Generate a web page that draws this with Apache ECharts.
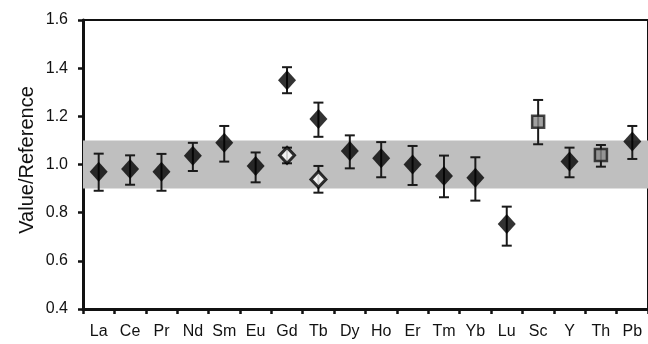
<!DOCTYPE html>
<html>
<head>
<meta charset="utf-8">
<script src="https://cdn.jsdelivr.net/npm/echarts@6/dist/echarts.min.js"></script>
<style>
  html, body { margin: 0; padding: 0; background: #fff; }
  #chart { width: 648px; height: 344px; }
</style>
</head>
<body>
<div id="chart"></div>
<script>
// 元素名称
const categories = ['La', 'Ce', 'Pr', 'Nd', 'Sm', 'Eu', 'Gd', 'Tb', 'Dy', 'Ho', 'Er', 'Tm', 'Yb', 'Lu', 'Sc', 'Y', 'Th', 'Pb'];

// 黑色菱形 + 误差
const blackValues = [0.97, 0.981, 0.97, 1.036, 1.09, 0.994, 1.35, 1.189, 1.056, 1.026, 1.0, 0.952, 0.945, 0.753, null, 1.012, null, 1.095];
const blackLow = [0.891, 0.916, 0.891, 0.973, 1.012, 0.926, 1.296, 1.115, 0.984, 0.947, 0.915, 0.864, 0.85, 0.663, null, 0.947, null, 1.023];
const blackHigh = [1.045, 1.038, 1.044, 1.09, 1.16, 1.05, 1.404, 1.257, 1.121, 1.093, 1.077, 1.037, 1.03, 0.825, null, 1.07, null, 1.16];

// 白色菱形 (Gd, Tb)
const whiteCats = ['Gd', 'Tb'];
const whiteValues = [1.038, 0.938];
const whiteLow = [1.005, 0.883];
const whiteHigh = [1.07, 0.994];

// 灰色方块 (Sc, Th)
const squareCats = ['Sc', 'Th'];
const squareValues = [1.178, 1.039];
const squareLow = [1.084, 0.991];
const squareHigh = [1.268, 1.081];

const yTicks = { min: 0.4, max: 1.6, interval: 0.2 };
const band = [0.9, 1.1];

const errData = [];
blackValues.forEach((v, i) => {
  if (v != null) errData.push([categories[i], blackLow[i], blackHigh[i]]);
});
whiteCats.forEach((c, i) => errData.push([c, whiteLow[i], whiteHigh[i]]));
squareCats.forEach((c, i) => errData.push([c, squareLow[i], squareHigh[i]]));

function renderErr(params, api) {
  const lo = api.coord([api.value(0), api.value(1)]);
  const hi = api.coord([api.value(0), api.value(2)]);
  const w = 5;
  const style = { stroke: '#1a1a1a', lineWidth: 2 };
  return {
    type: 'group',
    children: [
      { type: 'line', shape: { x1: hi[0], y1: hi[1], x2: lo[0], y2: lo[1] }, style },
      { type: 'line', shape: { x1: hi[0] - w, y1: hi[1], x2: hi[0] + w, y2: hi[1] }, style },
      { type: 'line', shape: { x1: lo[0] - w, y1: lo[1], x2: lo[0] + w, y2: lo[1] }, style }
    ]
  };
}

const myChart = echarts.init(document.getElementById('chart'));
const font = 'Liberation Sans, Arial, sans-serif';

const option = {
  animation: false,
  grid: {
    left: 83, right: -2, top: 20, bottom: 35,
    show: true, borderColor: '#111', borderWidth: 2, backgroundColor: 'transparent'
  },
  graphic: [{
    type: 'text',
    x: 27, y: 160,
    rotation: Math.PI / 2,
    style: {
      text: 'Value/Reference',
      font: '20px ' + font,
      fill: '#111',
      align: 'center',
      verticalAlign: 'middle'
    }
  }],
  xAxis: {
    type: 'category',
    data: categories,
    boundaryGap: true,
    axisLine: { lineStyle: { color: '#111', width: 3 } },
    axisTick: { show: true, length: 5, lineStyle: { color: '#111', width: 2.5 } },
    axisLabel: { color: '#111', fontSize: 16, fontFamily: font, margin: 15, interval: 0 },
    splitLine: { show: false }
  },
  yAxis: {
    type: 'value',
    min: yTicks.min,
    max: yTicks.max,
    interval: yTicks.interval,
    axisLine: { show: true, lineStyle: { color: '#111', width: 3 } },
    axisTick: { show: true, length: 5, lineStyle: { color: '#111', width: 2.5 } },
    axisLabel: { color: '#111', fontSize: 16, fontFamily: font, margin: 15, formatter: v => v.toFixed(1) },
    splitLine: { show: false }
  },
  series: [
    {
      type: 'custom',
      renderItem: renderErr,
      data: errData,
      z: 2,
      silent: true,
      markArea: {
        silent: true,
        itemStyle: { color: '#bfbfbf' },
        data: [[{ yAxis: band[0] }, { yAxis: band[1] }]]
      }
    },
    {
      type: 'scatter',
      data: blackValues.map((v, i) => [categories[i], v == null ? '-' : v]),
      symbol: 'diamond',
      symbolSize: [18, 20],
      itemStyle: { color: '#000' },
      z: 3
    },
    {
      type: 'scatter',
      data: whiteCats.map((c, i) => [c, whiteValues[i]]),
      symbol: 'diamond',
      symbolSize: [15, 16],
      itemStyle: { color: '#fff', borderColor: '#000', borderWidth: 3 },
      z: 3
    },
    {
      type: 'scatter',
      data: squareCats.map((c, i) => [c, squareValues[i]]),
      symbol: 'rect',
      symbolSize: 12,
      itemStyle: { color: '#8a8a8a', borderColor: '#1a1a1a', borderWidth: 2.5 },
      z: 3
    }
  ]
};

myChart.setOption(option);
</script>
</body>
</html>
